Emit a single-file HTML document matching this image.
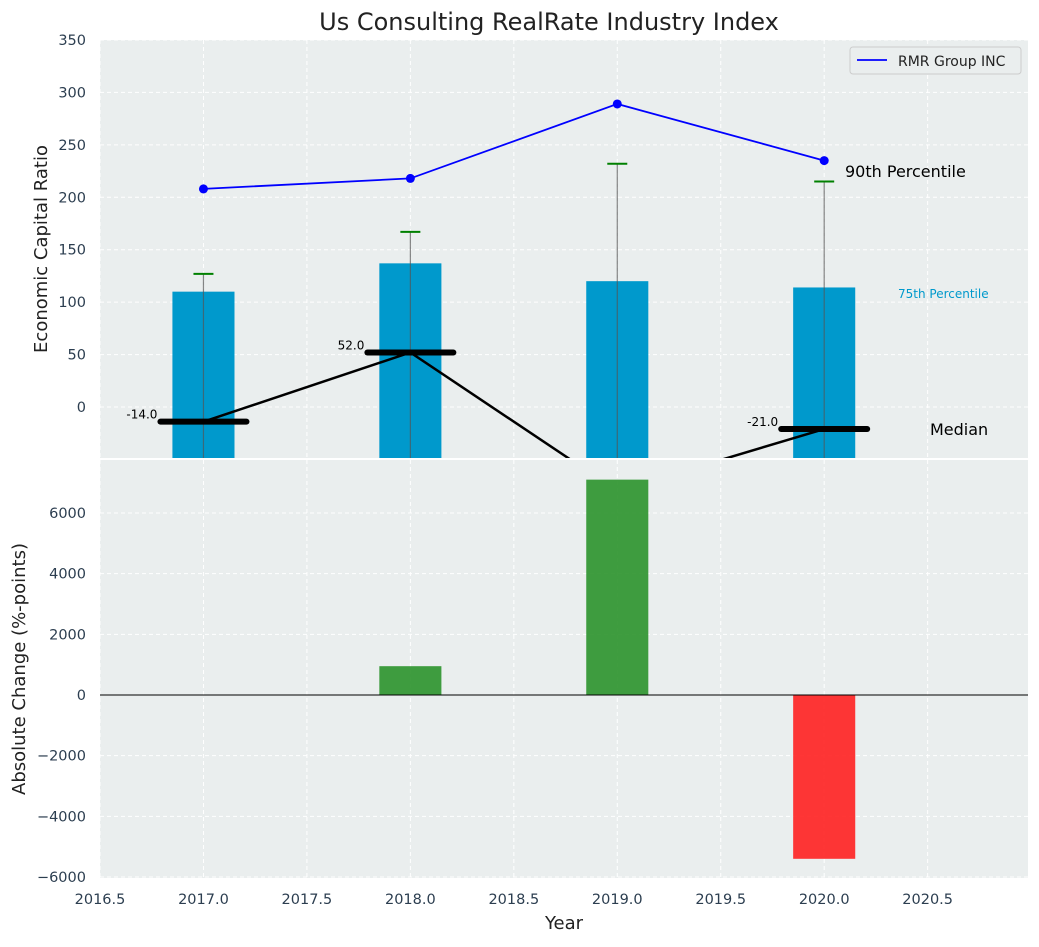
<!DOCTYPE html>
<html><head><meta charset="utf-8"><style>
body{margin:0;background:#fff;font-family:"Liberation Sans","DejaVu Sans",sans-serif}
svg text{font-family:"DejaVu Sans","Liberation Sans",sans-serif}
</style></head><body>
<svg id="c" width="1039" height="942" viewBox="0 0 1039 942"></svg>
<script>
const years=[2017,2018,2019,2020];
const bars75=[110,137,120,114];
const p90=[127,167,232,215];
const medians=[-14,52,-80,-21];
const medianLabels=["-14.0","52.0",null,"-21.0"];
const rmr=[208,218,289,235];
const changes=[0,950,7100,-5400];
const yTopTicks=[0,50,100,150,200,250,300,350];
const yBotTicks=[-6000,-4000,-2000,0,2000,4000,6000];
const xTicks=[2016.5,2017,2017.5,2018,2018.5,2019,2019.5,2020,2020.5];

const NS="http://www.w3.org/2000/svg";
const svg=document.getElementById('c');
function mk(t,a,p){const e=document.createElementNS(NS,t);for(const k in a)e.setAttribute(k,a[k]);(p||svg).appendChild(e);return e;}
const L=100,R=1028;
const x=v=>L+(v-2016.5)*(R-L)/(2020.985-2016.5);
const T1=40,B1=458,yt=v=>407-v*(367/350);
const T2=460,B2=878,yb=v=>695-v*(182/6000);

let e=mk('rect',{x:L,y:T1,width:R-L,height:B1-T1,fill:'#eaeeee'});

e=mk('rect',{x:L,y:T2,width:R-L,height:B2-T2,fill:'#eaeeee'});

mk('defs',{}).innerHTML='<clipPath id="c1"><rect x="100" y="40" width="928" height="418"/></clipPath><clipPath id="c2"><rect x="100" y="460" width="928" height="418"/></clipPath>';

xTicks.forEach(v=>{[[T1,B1],[T2,B2]].forEach(([a,b])=>mk('line',{x1:x(v),x2:x(v),y1:a,y2:b,stroke:'#fff','stroke-dasharray':'4,3','stroke-width':1}));});
yTopTicks.forEach(v=>{mk('line',{x1:L,x2:R,y1:yt(v),y2:yt(v),stroke:'#fff','stroke-dasharray':'4,3'});
 e=mk('text',{x:86,y:yt(v)+5,'text-anchor':'end','font-size':14.5,fill:'#2c3e50'});e.textContent=v;
 });
yBotTicks.forEach(v=>{mk('line',{x1:L,x2:R,y1:yb(v),y2:yb(v),stroke:'#fff','stroke-dasharray':'4,3'});
 e=mk('text',{x:86,y:yb(v)+5,'text-anchor':'end','font-size':14.5,fill:'#2c3e50'});e.textContent=v<0?'\u2212'+Math.abs(v):v;
 });
xTicks.forEach(v=>{e=mk('text',{x:x(v),y:904,'text-anchor':'middle','font-size':14.5,fill:'#2c3e50'});e.textContent=v.toFixed(1);
 });

const g1=mk('g',{'clip-path':'url(#c1)'});
const g2=mk('g',{'clip-path':'url(#c2)'});
const bw=0.3*(R-L)/(2020.985-2016.5);
years.forEach((yr,i)=>{
 e=mk('rect',{x:x(yr)-bw/2,y:yt(bars75[i]),width:bw,height:B1-yt(bars75[i])+5,fill:'#0099cc'},g1);
 
 e=mk('line',{x1:x(yr),x2:x(yr),y1:yt(p90[i]),y2:B1+5,stroke:'#555','stroke-width':1.2,opacity:0.7},g1);
 
 e=mk('line',{x1:x(yr)-10,x2:x(yr)+10,y1:yt(p90[i]),y2:yt(p90[i]),stroke:'green','stroke-width':2},g1);
 
});
e=mk('polyline',{points:years.map((yr,i)=>x(yr)+','+yt(medians[i])).join(' '),fill:'none',stroke:'#000','stroke-width':2.5},g1);

years.forEach((yr,i)=>{
 e=mk('line',{x1:x(yr)-43,x2:x(yr)+43,y1:yt(medians[i]),y2:yt(medians[i]),stroke:'#000','stroke-width':6,'stroke-linecap':'round'},g1);
 
 if(medianLabels[i]){e=mk('text',{x:x(yr)-46,y:yt(medians[i])-3,'text-anchor':'end','font-size':12,fill:'#000'});e.textContent=medianLabels[i];
 }
});
e=mk('polyline',{points:years.map((yr,i)=>x(yr)+','+yt(rmr[i])).join(' '),fill:'none',stroke:'blue','stroke-width':1.8});

years.forEach((yr,i)=>{e=mk('circle',{cx:x(yr),cy:yt(rmr[i]),r:4.5,fill:'blue'});
 });
[[845,177,'90th Percentile',16,'#000','label-90th'],[898,298,'75th Percentile',12,'#0099cc','label-75th'],[930,435,'Median',16,'#000','label-median']].forEach(a=>{
 e=mk('text',{x:a[0],y:a[1],'font-size':a[3],fill:a[4]});e.textContent=a[2];
 });
years.forEach((yr,i)=>{if(!changes[i])return;const v=changes[i];
 e=mk('rect',{x:x(yr)-bw/2,y:Math.min(yb(v),yb(0)),width:bw,height:Math.abs(yb(v)-yb(0)),fill:v>0?'#2b922b':'#ff2020',opacity:0.9},g2);
 });
mk('line',{x1:L,x2:R,y1:yb(0),y2:yb(0),stroke:'#000','stroke-width':1});
e=mk('g',{});
mk('rect',{x:850,y:47,width:171,height:27,rx:3,fill:'#eaeeee',stroke:'#ccc'},e);
mk('line',{x1:857,x2:887,y1:60,y2:60,stroke:'blue','stroke-width':1.8},e);
let t=mk('text',{x:898,y:66,'font-size':14,fill:'#222'},e);t.textContent='RMR Group INC';
e=mk('text',{x:549,y:30,'text-anchor':'middle','font-size':24,fill:'#222'});e.textContent='Us Consulting RealRate Industry Index';

e=mk('text',{x:564,y:929,'text-anchor':'middle','font-size':18,fill:'#222'});e.textContent='Year';

e=mk('text',{x:0,y:0,'text-anchor':'middle','font-size':18,fill:'#222',transform:'translate(47,249) rotate(-90)'});e.textContent='Economic Capital Ratio';

e=mk('text',{x:0,y:0,'text-anchor':'middle','font-size':18,fill:'#222',transform:'translate(25,669) rotate(-90)'});e.textContent='Absolute Change (%-points)';

</script>
</body></html>
